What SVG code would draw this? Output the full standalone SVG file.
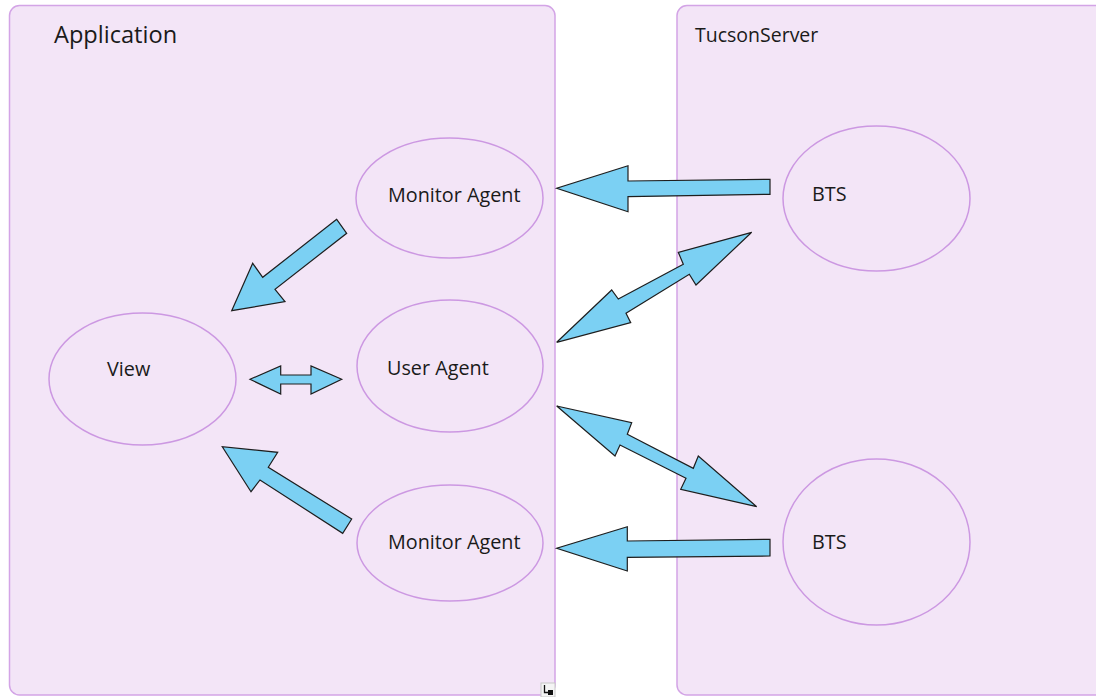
<svg xmlns="http://www.w3.org/2000/svg" width="1096" height="697" viewBox="0 0 1096 697">
  <style>
    .panel { fill: #F3E5F7; stroke: #D3A4E6; stroke-width: 1.5; }
    .node { fill: #F3E5F7; stroke: #CC98E2; stroke-width: 1.5; }
    .label { font-family: "Open Sans", "DejaVu Sans", sans-serif; fill: #1A1A1A; }
    .arrow { fill: #7BD0F3; stroke: #1E1E1E; stroke-width: 1.2; stroke-linejoin: miter; }
  </style>
  <rect x="0" y="0" width="1096" height="697" fill="#FFFFFF"/>

  <!-- containers -->
  <g id="application">
    <rect class="panel" x="9.5" y="5.5" width="545.5" height="689.5" rx="10" ry="10"/>
    <text class="label" x="54" y="43" font-size="23.6">Application</text>
  </g>
  <g id="tucson-server">
    <rect class="panel" x="677" y="5.5" width="440" height="689.5" rx="10" ry="10"/>
    <text class="label" x="695" y="42" font-size="19.5">TucsonServer</text>
  </g>

  <!-- nodes -->
  <g id="monitor-agent-top">
    <ellipse class="node" cx="449.5" cy="198" rx="93.5" ry="60"/>
    <text class="label" x="388" y="202" font-size="19.8">Monitor Agent</text>
  </g>
  <g id="user-agent">
    <ellipse class="node" cx="450" cy="366" rx="93" ry="66"/>
    <text class="label" x="387" y="375" font-size="19.8">User Agent</text>
  </g>
  <g id="monitor-agent-bottom">
    <ellipse class="node" cx="450" cy="543" rx="93" ry="58"/>
    <text class="label" x="388" y="549" font-size="19.8">Monitor Agent</text>
  </g>
  <g id="view">
    <ellipse class="node" cx="142.5" cy="379" rx="93.5" ry="66"/>
    <text class="label" x="107" y="376" font-size="19.8">View</text>
  </g>
  <g id="bts-top">
    <ellipse class="node" cx="876.5" cy="198.5" rx="93.5" ry="72.5"/>
    <text class="label" x="812" y="201" font-size="19.8">BTS</text>
  </g>
  <g id="bts-bottom">
    <ellipse class="node" cx="876.5" cy="542" rx="93.5" ry="83"/>
    <text class="label" x="812" y="549" font-size="19.8">BTS</text>
  </g>

  <!-- connectors -->
  <g id="connectors">
    <!-- BTS (top) to Monitor Agent (top) -->
    <polygon class="arrow" points="770,179.3 628,181 628,165.7 556.7,188.3 628,211.7 628,196.7 770,194.3"/>
    <!-- BTS (bottom) to Monitor Agent (bottom) -->
    <polygon class="arrow" points="770,539.3 627.3,541 627.3,526.7 556.7,548.3 627.3,571 627.3,557.3 770,556"/>
    <!-- Monitor Agent (top) to View -->
    <polygon class="arrow" points="336.7,219.3 262.7,277.3 252.7,263.3 231.7,310.7 285,301.7 275,289.3 346.7,233.3"/>
    <!-- Monitor Agent (bottom) to View -->
    <polygon class="arrow" points="351.7,519 268.3,467.3 277.7,452.3 222.3,446.7 251,491.7 260,480 342.7,533.3"/>
    <!-- View and User Agent -->
    <polygon class="arrow" points="250,379.3 280.7,366 280.7,375 311,375 311,366 341.7,379.3 311,394 311,384 280.7,384 280.7,394"/>
    <!-- User Agent and BTS (top) -->
    <polygon class="arrow" points="556.7,342.3 611.7,290 618.3,299 683.3,264.3 678.3,252.3 751.7,232.3 696,285 689.3,274.3 626,313.3 630.7,322.7"/>
    <!-- User Agent and BTS (bottom) -->
    <polygon class="arrow" points="556.7,406 631.7,422.7 627.3,434.3 693.3,468.3 698.3,456 756.7,506.7 680.7,489.3 686,478.3 620,445 615,456"/>
  </g>

  <!-- resize handle in the corner of the Application panel -->
  <g id="resize-handle">
    <rect x="541" y="683" width="14" height="14" fill="#F4F4F4" stroke="#C8C8C8" stroke-width="1"/>
    <path d="M544.5,685 V692.5 H548" fill="none" stroke="#111111" stroke-width="1.3"/>
    <rect x="548" y="690" width="5" height="5" fill="#111111"/>
  </g>
</svg>
